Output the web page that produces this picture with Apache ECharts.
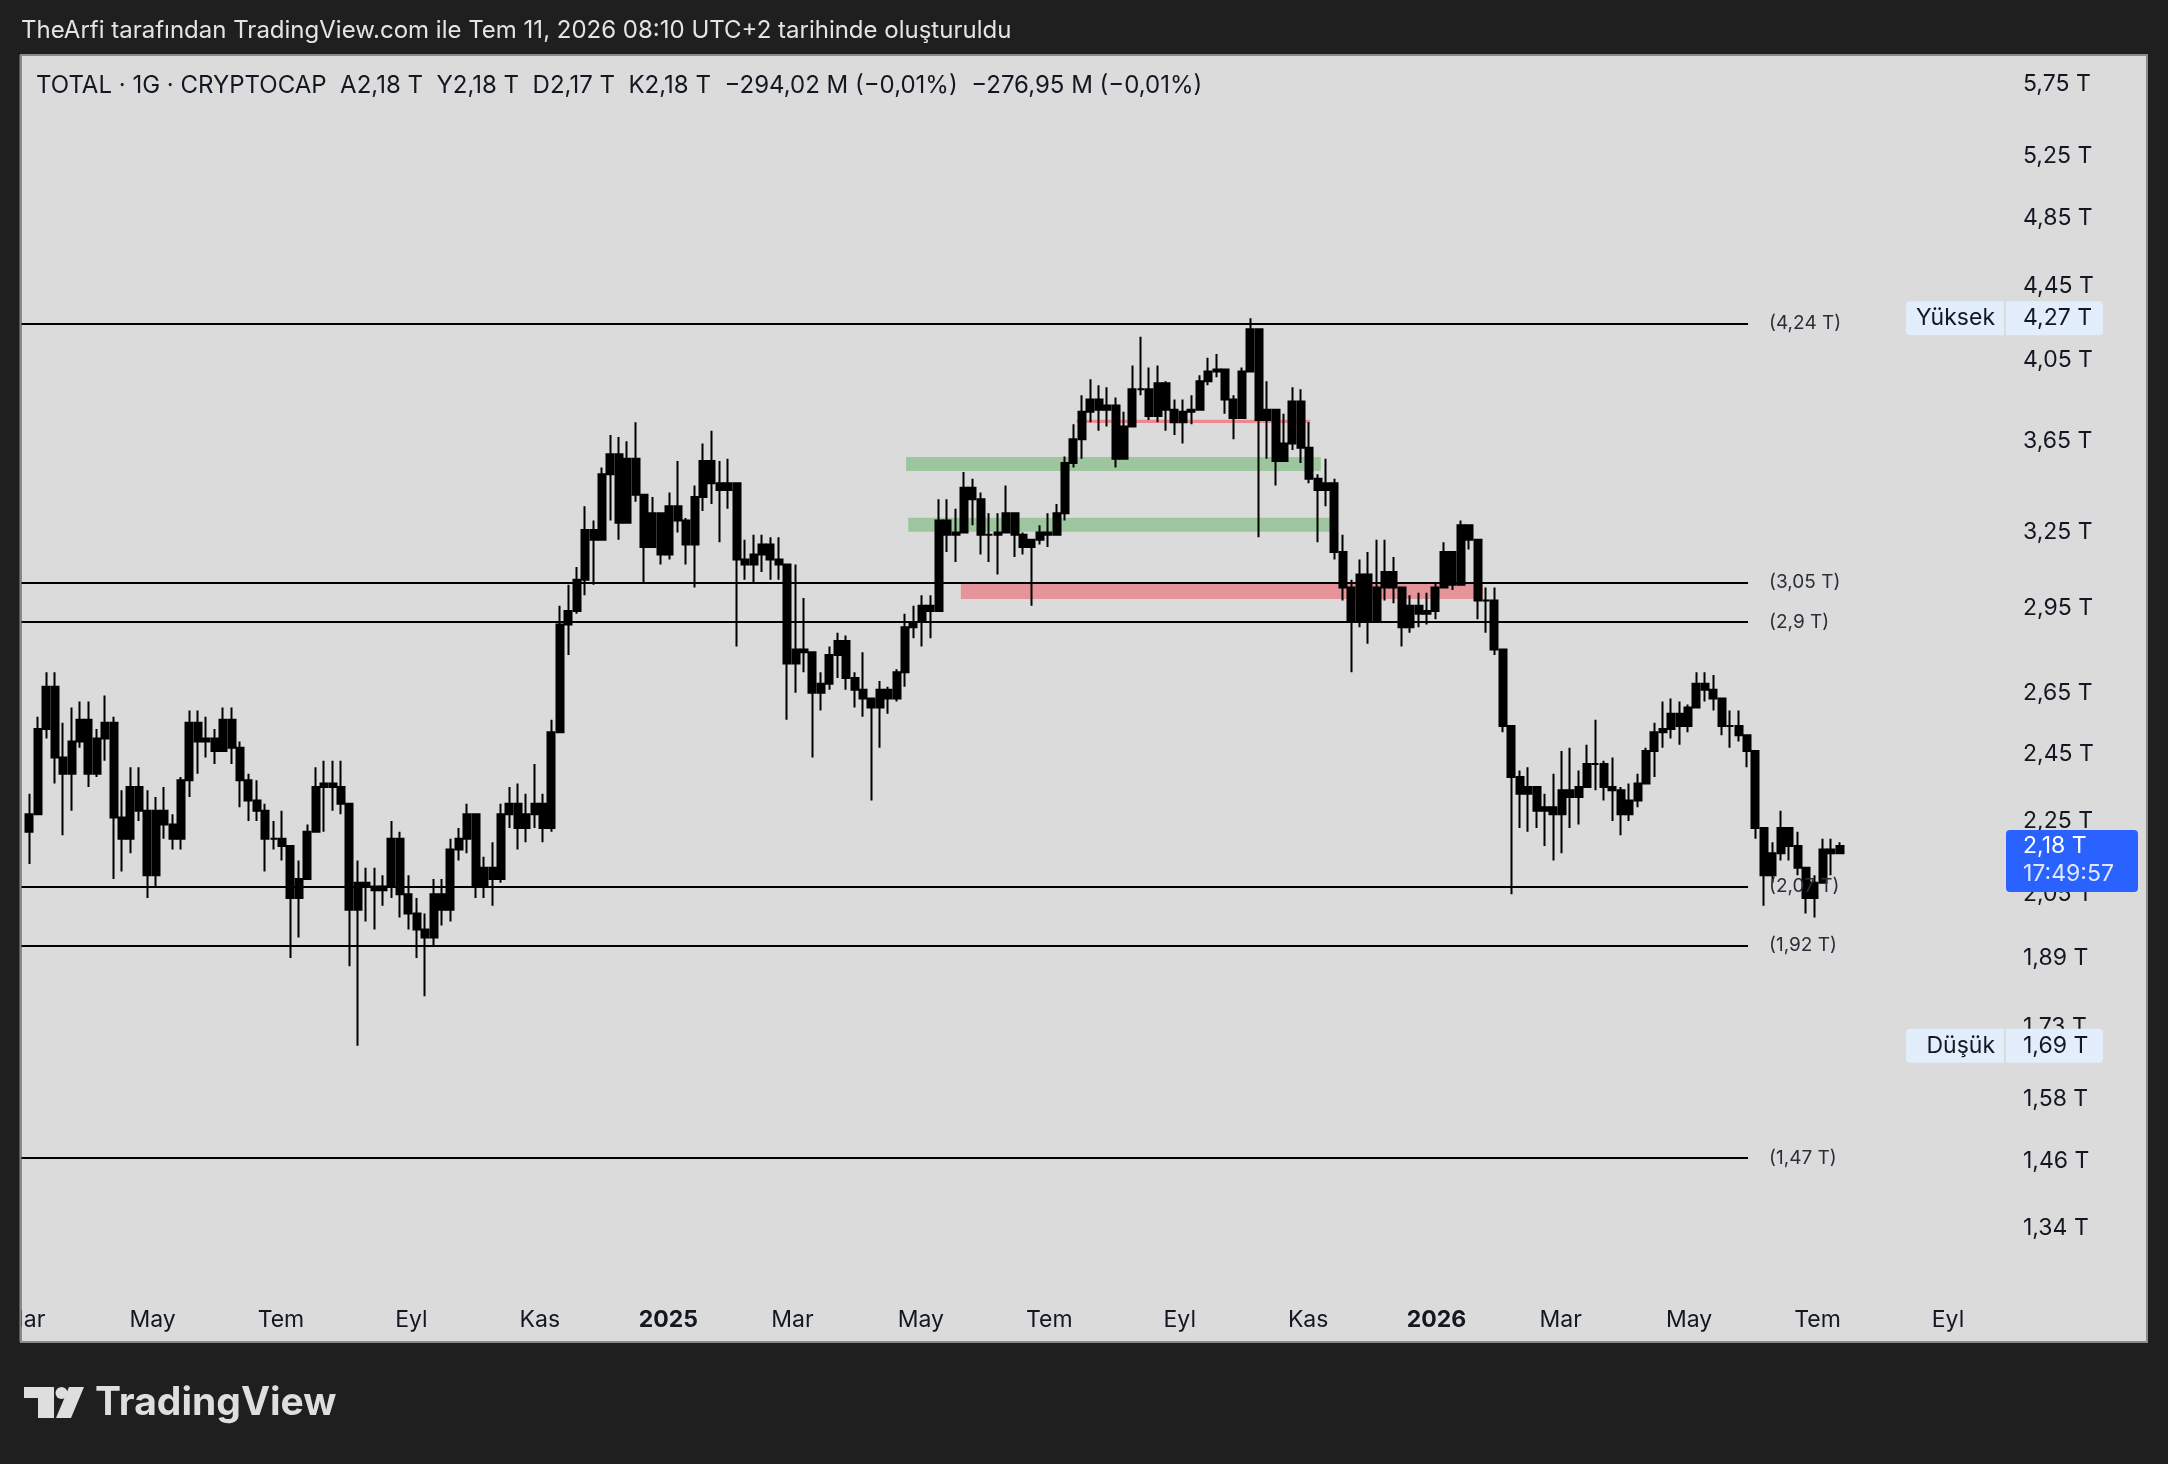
<!DOCTYPE html>
<html>
<head>
<meta charset="utf-8">
<title>TOTAL · 1G · CRYPTOCAP</title>
<script src="https://cdn.jsdelivr.net/npm/echarts@6/dist/echarts.min.js"></script>
<style>
  html, body { margin: 0; padding: 0; background: #1f1f1f; }
  #chart { width: 2168px; height: 1464px; }
</style>
</head>
<body>
<div id="chart"></div>
<script>
// 4 günlük mumlar, 2024-03-02'den başlayarak (değerler trilyon $)
var startDate = '2024-03-02';
var blockDays = 4;
var firstOpen = 2.22;

var closes = [
  2.27, 2.53, 2.67, 2.44, 2.39, 2.49, 2.56, 2.39, 2.50, 2.55,
  2.26, 2.20, 2.35, 2.28, 2.10, 2.28, 2.24, 2.20, 2.37, 2.55,
  2.49, 2.50, 2.46, 2.56, 2.47, 2.37, 2.31, 2.28, 2.20, 2.20,
  2.18, 2.04, 2.09, 2.22, 2.35, 2.36, 2.35, 2.30, 2.01, 2.08,
  2.07, 2.06, 2.07, 2.20, 2.05, 2.00, 1.96, 1.94, 2.05, 2.01,
  2.17, 2.20, 2.27, 2.07, 2.12, 2.09, 2.27, 2.30, 2.23, 2.27,
  2.30, 2.23, 2.52, 2.89, 2.94, 3.06, 3.26, 3.22, 3.50, 3.59,
  3.29, 3.57, 3.41, 3.19, 3.33, 3.16, 3.36, 3.30, 3.20, 3.40,
  3.56, 3.46, 3.43, 3.46, 3.14, 3.12, 3.16, 3.20, 3.14, 3.12,
  2.75, 2.80, 2.79, 2.65, 2.68, 2.78, 2.83, 2.70, 2.66, 2.63,
  2.60, 2.66, 2.63, 2.72, 2.88, 2.90, 2.96, 2.94, 3.30, 3.24,
  3.25, 3.44, 3.39, 3.24, 3.24, 3.25, 3.33, 3.24, 3.19, 3.22,
  3.25, 3.24, 3.33, 3.55, 3.66, 3.79, 3.85, 3.80, 3.82, 3.57,
  3.72, 3.90, 3.90, 3.77, 3.93, 3.80, 3.74, 3.79, 3.80, 3.94,
  3.99, 4.00, 3.85, 3.76, 3.99, 4.21, 3.75, 3.80, 3.56, 3.64,
  3.84, 3.62, 3.48, 3.43, 3.46, 3.17, 3.03, 2.90, 3.08, 2.90,
  3.03, 3.09, 3.03, 2.88, 2.96, 2.93, 2.94, 3.03, 3.17, 3.04,
  3.28, 3.22, 2.98, 2.98, 2.80, 2.54, 2.38, 2.33, 2.35, 2.28,
  2.29, 2.27, 2.34, 2.32, 2.35, 2.42, 2.42, 2.35, 2.34, 2.27,
  2.31, 2.36, 2.46, 2.52, 2.53, 2.58, 2.54, 2.60, 2.68, 2.66,
  2.63, 2.54, 2.54, 2.51, 2.46, 2.23, 2.10, 2.16, 2.23, 2.18,
  2.12, 2.04, 2.08, 2.17, 2.16, 2.18
];

var highs = [
  2.33, 2.57, 2.72, 2.72, 2.55, 2.60, 2.62, 2.62, 2.53, 2.64,
  2.57, 2.34, 2.41, 2.41, 2.34, 2.32, 2.35, 2.27, 2.38, 2.59,
  2.59, 2.57, 2.53, 2.60, 2.60, 2.49, 2.39, 2.37, 2.30, 2.25,
  2.28, 2.18, 2.14, 2.24, 2.41, 2.43, 2.43, 2.43, 2.30, 2.14,
  2.12, 2.12, 2.10, 2.25, 2.22, 2.10, 2.04, 2.00, 2.09, 2.09,
  2.20, 2.23, 2.30, 2.27, 2.15, 2.19, 2.30, 2.35, 2.36, 2.33,
  2.42, 2.33, 2.56, 2.96, 3.04, 3.11, 3.36, 3.30, 3.53, 3.68,
  3.67, 3.65, 3.74, 3.41, 3.40, 3.33, 3.42, 3.56, 3.31, 3.45,
  3.64, 3.70, 3.56, 3.57, 3.46, 3.22, 3.24, 3.24, 3.23, 3.23,
  3.12, 3.12, 2.99, 2.79, 2.72, 2.81, 2.86, 2.85, 2.72, 2.79,
  2.63, 2.69, 2.67, 2.73, 2.93, 2.96, 3.00, 3.00, 3.39, 3.39,
  3.35, 3.51, 3.48, 3.42, 3.33, 3.33, 3.45, 3.33, 3.25, 3.22,
  3.28, 3.33, 3.37, 3.58, 3.73, 3.87, 3.95, 3.92, 3.91, 3.86,
  3.79, 4.02, 4.17, 4.01, 4.02, 3.94, 3.85, 3.85, 3.87, 3.97,
  4.06, 4.08, 4.00, 3.87, 4.01, 4.27, 4.21, 3.94, 3.80, 3.78,
  3.91, 3.90, 3.74, 3.50, 3.57, 3.48, 3.24, 3.06, 3.14, 3.17,
  3.22, 3.22, 3.15, 3.03, 3.00, 3.01, 3.01, 3.05, 3.21, 3.17,
  3.30, 3.28, 3.22, 3.03, 3.03, 2.80, 2.54, 2.40, 2.41, 2.35,
  2.33, 2.39, 2.46, 2.47, 2.40, 2.48, 2.56, 2.43, 2.44, 2.35,
  2.36, 2.39, 2.47, 2.55, 2.62, 2.63, 2.62, 2.61, 2.72, 2.72,
  2.71, 2.63, 2.59, 2.59, 2.51, 2.46, 2.23, 2.19, 2.28, 2.23,
  2.22, 2.12, 2.10, 2.20, 2.20, 2.19
];

var lows = [
  2.13, 2.27, 2.50, 2.36, 2.21, 2.28, 2.47, 2.35, 2.38, 2.43,
  2.09, 2.11, 2.16, 2.25, 2.04, 2.07, 2.20, 2.17, 2.17, 2.32,
  2.39, 2.44, 2.42, 2.46, 2.42, 2.29, 2.25, 2.25, 2.11, 2.17,
  2.14, 1.89, 1.94, 2.09, 2.22, 2.22, 2.28, 2.27, 1.87, 1.69,
  1.98, 1.96, 2.02, 2.04, 1.99, 1.96, 1.89, 1.80, 1.92, 1.97,
  1.98, 2.14, 2.16, 2.04, 2.04, 2.02, 2.08, 2.23, 2.17, 2.19,
  2.23, 2.19, 2.22, 2.52, 2.78, 2.93, 3.00, 3.04, 3.22, 3.30,
  3.22, 3.29, 3.38, 3.05, 3.19, 3.12, 3.14, 3.25, 3.12, 3.03,
  3.34, 3.37, 3.21, 3.35, 2.81, 3.06, 3.05, 3.09, 3.06, 3.06,
  2.56, 2.65, 2.72, 2.44, 2.59, 2.66, 2.70, 2.66, 2.60, 2.57,
  2.31, 2.47, 2.58, 2.62, 2.67, 2.84, 2.81, 2.84, 2.94, 3.17,
  3.13, 3.25, 3.28, 3.16, 3.13, 3.08, 3.25, 3.15, 3.16, 2.96,
  3.20, 3.19, 3.24, 3.30, 3.53, 3.57, 3.74, 3.70, 3.72, 3.53,
  3.57, 3.72, 3.87, 3.75, 3.74, 3.70, 3.68, 3.64, 3.73, 3.80,
  3.92, 3.96, 3.78, 3.66, 3.76, 3.99, 3.23, 3.57, 3.45, 3.56,
  3.61, 3.55, 3.46, 3.21, 3.36, 3.14, 2.98, 2.72, 2.88, 2.82,
  2.90, 2.98, 2.97, 2.81, 2.86, 2.88, 2.89, 2.91, 3.03, 3.02,
  3.04, 3.18, 2.91, 2.86, 2.78, 2.52, 2.05, 2.23, 2.22, 2.23,
  2.18, 2.14, 2.16, 2.23, 2.24, 2.35, 2.34, 2.31, 2.25, 2.21,
  2.25, 2.29, 2.36, 2.38, 2.47, 2.50, 2.48, 2.52, 2.60, 2.62,
  2.59, 2.51, 2.47, 2.49, 2.41, 2.20, 2.02, 2.08, 2.14, 2.14,
  2.10, 2.00, 1.99, 2.08, 2.10, 2.16
];

// fiyat ekseni etiketleri
var priceTicks = [1.34, 1.46, 1.58, 1.73, 1.89, 2.05, 2.25, 2.45, 2.65, 2.95, 3.25, 3.65, 4.05, 4.45, 4.85, 5.25, 5.75];

// zaman ekseni etiketleri
var monthTicks = ['2024-03-01', '2024-05-01', '2024-07-01', '2024-09-01', '2024-11-01', '2025-01-01',
  '2025-03-01', '2025-05-01', '2025-07-01', '2025-09-01', '2025-11-01', '2026-01-01',
  '2026-03-01', '2026-05-01', '2026-07-01', '2026-09-01'];
var monthNames = ['Mar', 'May', 'Tem', 'Eyl', 'Kas', '2025', 'Mar', 'May', 'Tem', 'Eyl', 'Kas', '2026', 'Mar', 'May', 'Tem', 'Eyl'];

// yatay seviyeler (çizginin durduğu fiyat ve etiketi)
var levels = [4.24, 3.05, 2.9, 2.07, 1.92, 1.465];
var levelLabels = ['4,24', '3,05', '2,9', '2,07', '1,92', '1,47'];
var levelsEnd = '2026-05-29';

// bölgeler (dikdörtgenler)
var zoneStart = ['2025-04-24', '2025-04-25', '2025-05-20', '2025-07-14'];
var zoneEnd = ['2025-11-07', '2025-11-12', '2026-01-23', '2025-11-02'];
var zoneLow = [3.515, 3.253, 2.986, 3.736];
var zoneHigh = [3.578, 3.311, 3.05, 3.752];
var zoneColor = ['#9dc69f', '#9dc69f', '#e5959a', '#ee878e'];

var highValue = 4.27;
var lowValue = 1.69;
var lastValue = 2.18;

var FONT = 'Inter, "Noto Sans", Roboto, sans-serif';
var INK = '#131722';

function dayIndex(s) {
  var p = s.split('-');
  var q = startDate.split('-');
  return (Date.UTC(+p[0], +p[1] - 1, +p[2]) - Date.UTC(+q[0], +q[1] - 1, +q[2])) / 86400000;
}
function fmt(v) {
  return v.toFixed(2).replace('.', ',');
}

var candles = closes.map(function (c, i) {
  var o = i === 0 ? firstOpen : closes[i - 1];
  return [i * blockDays + 1.5, o, c, lows[i], highs[i]];
});

var tickDays = monthTicks.map(dayIndex);
var lineEndDay = dayIndex(levelsEnd);

var chart = echarts.init(document.getElementById('chart'));

var option = {
  animation: false,
  backgroundColor: '#1f1f1f',
  grid: { left: 0, top: 56, right: 168, bottom: 171 },
  xAxis: {
    type: 'value',
    min: -10.14,
    max: 937.7,
    axisLine: { show: false },
    axisTick: { show: false },
    splitLine: { show: false },
    axisLabel: {
      customValues: tickDays,
      margin: 16,
      color: INK,
      fontSize: 23,
      fontFamily: FONT,
      formatter: function (v) {
        var i = tickDays.indexOf(v);
        var t = i >= 0 ? monthNames[i] : '';
        return /^\d{4}$/.test(t) ? '{y|' + t + '}' : t;
      },
      rich: { y: { fontWeight: 'bold', fontSize: 23, color: INK, fontFamily: FONT } }
    }
  },
  yAxis: {
    type: 'log',
    logBase: 10,
    min: 1.2334,
    max: 5.963,
    position: 'right',
    axisLine: { show: false },
    axisTick: { show: false },
    splitLine: { show: false },
    axisLabel: {
      customValues: priceTicks,
      margin: 23,
      color: INK,
      fontSize: 23,
      fontFamily: FONT,
      formatter: function (v) { return fmt(v) + ' T'; }
    }
  },
  series: [
    {
      type: 'line',
      data: [],
      z: 1,
      silent: true,
      markArea: {
        silent: true,
        data: zoneStart.map(function (s, i) {
          return [
            { coord: [dayIndex(s), zoneHigh[i]], itemStyle: { color: zoneColor[i], opacity: 1 } },
            { coord: [dayIndex(zoneEnd[i]), zoneLow[i]] }
          ];
        })
      },
      markLine: {
        silent: true,
        symbol: ['none', 'none'],
        lineStyle: { color: '#000', width: 2, type: 'solid' },
        label: {
          position: 'end',
          distance: 21,
          color: '#2a2e39',
          fontSize: 19,
          fontFamily: FONT
        },
        data: levels.map(function (v, i) {
          return [
            { coord: [-10.14, v] },
            { coord: [lineEndDay, v], label: { formatter: '(' + levelLabels[i] + ' T)' } }
          ];
        })
      }
    },
    {
      type: 'candlestick',
      data: candles,
      z: 3,
      barWidth: 7.5,
      itemStyle: {
        color: '#000',
        color0: '#000',
        borderColor: '#000',
        borderColor0: '#000',
        borderWidth: 2
      }
    }
  ]
};

chart.setOption(option);

// fiyat ölçeğindeki kutular, kütüphanenin ölçeğiyle konumlanır
function py(v) { return chart.convertToPixel({ gridIndex: 0 }, [0, v])[1]; }

function sideBox(id, name, v) {
  var y = py(v);
  return [
    { type: 'rect', id: id + 'a', z: 100, shape: { x: 1906, y: y - 17, width: 98, height: 34, r: [4, 0, 0, 4] }, style: { fill: '#e3eefc' } },
    { type: 'rect', id: id + 'b', z: 100, shape: { x: 2006, y: y - 17, width: 97, height: 34, r: [0, 4, 4, 0] }, style: { fill: '#e3eefc' } },
    { type: 'text', id: id + 'c', z: 101, x: 1995, y: y, style: { text: name, fill: INK, fontSize: 23, fontFamily: FONT, align: 'right', verticalAlign: 'middle' } },
    { type: 'text', id: id + 'd', z: 101, x: 2023, y: y, style: { text: fmt(v) + ' T', fill: INK, fontSize: 23, fontFamily: FONT, align: 'left', verticalAlign: 'middle' } }
  ];
}

var lastY = py(lastValue);

var graphics = [
  // panel
  { type: 'rect', id: 'panel', z: -10, shape: { x: 21, y: 55, width: 2126, height: 1287 }, style: { fill: '#dbdbdb', stroke: '#8a8a8a', lineWidth: 2 } },
  // sol kenar örtüsü
  { type: 'rect', id: 'leftCover', z: 90, shape: { x: 0, y: 50, width: 20, height: 1300 }, style: { fill: '#1f1f1f' } },
  { type: 'line', id: 'leftEdge', z: 91, shape: { x1: 20.5, y1: 55, x2: 20.5, y2: 1342 }, style: { stroke: '#8a8a8a', lineWidth: 2 } },
  // başlıklar
  { type: 'text', id: 'title', z: 100, x: 21, y: 31, style: { text: 'TheArfi tarafından TradingView.com ile Tem 11, 2026 08:10 UTC+2 tarihinde oluşturuldu', fill: '#e4e4e4', fontSize: 24, fontFamily: FONT, verticalAlign: 'middle' } },
  { type: 'text', id: 'legend', z: 100, x: 36, y: 86, style: { text: 'TOTAL · 1G · CRYPTOCAP  A2,18 T  Y2,18 T  D2,17 T  K2,18 T  −294,02 M (−0,01%)  −276,95 M (−0,01%)', fill: INK, fontSize: 24, fontFamily: FONT, verticalAlign: 'middle' } },
  // son fiyat kutusu
  { type: 'rect', id: 'lastBox', z: 100, shape: { x: 2006, y: lastY - 16, width: 132, height: 62, r: 4 }, style: { fill: '#2962ff' } },
  { type: 'text', id: 'lastTxt', z: 101, x: 2023, y: lastY, style: { text: fmt(lastValue) + ' T', fill: '#ffffff', fontSize: 23, fontFamily: FONT, verticalAlign: 'middle' } },
  { type: 'text', id: 'lastTime', z: 101, x: 2023, y: lastY + 28, style: { text: '17:49:57', fill: 'rgba(255,255,255,0.85)', fontSize: 23, fontFamily: FONT, verticalAlign: 'middle' } },
  // TradingView logosu
  { type: 'rect', id: 'logo1', z: 100, shape: { x: 24, y: 1387, width: 30, height: 11 }, style: { fill: '#dedede' } },
  { type: 'rect', id: 'logo2', z: 100, shape: { x: 38, y: 1387, width: 16, height: 31 }, style: { fill: '#dedede' } },
  { type: 'circle', id: 'logo3', z: 100, shape: { cx: 61.5, cy: 1393, r: 6 }, style: { fill: '#dedede' } },
  { type: 'polygon', id: 'logo4', z: 100, shape: { points: [[69, 1387], [84, 1387], [71, 1418], [56, 1418]] }, style: { fill: '#dedede' } },
  { type: 'text', id: 'logoTxt', z: 100, x: 95, y: 1403, style: { text: 'TradingView', fill: '#dedede', fontSize: 39, fontWeight: 'bold', fontFamily: FONT, verticalAlign: 'middle' } }
].concat(sideBox('hi', 'Yüksek', highValue), sideBox('lo', 'Düşük', lowValue));

chart.setOption({ graphic: graphics });
</script>
</body>
</html>
